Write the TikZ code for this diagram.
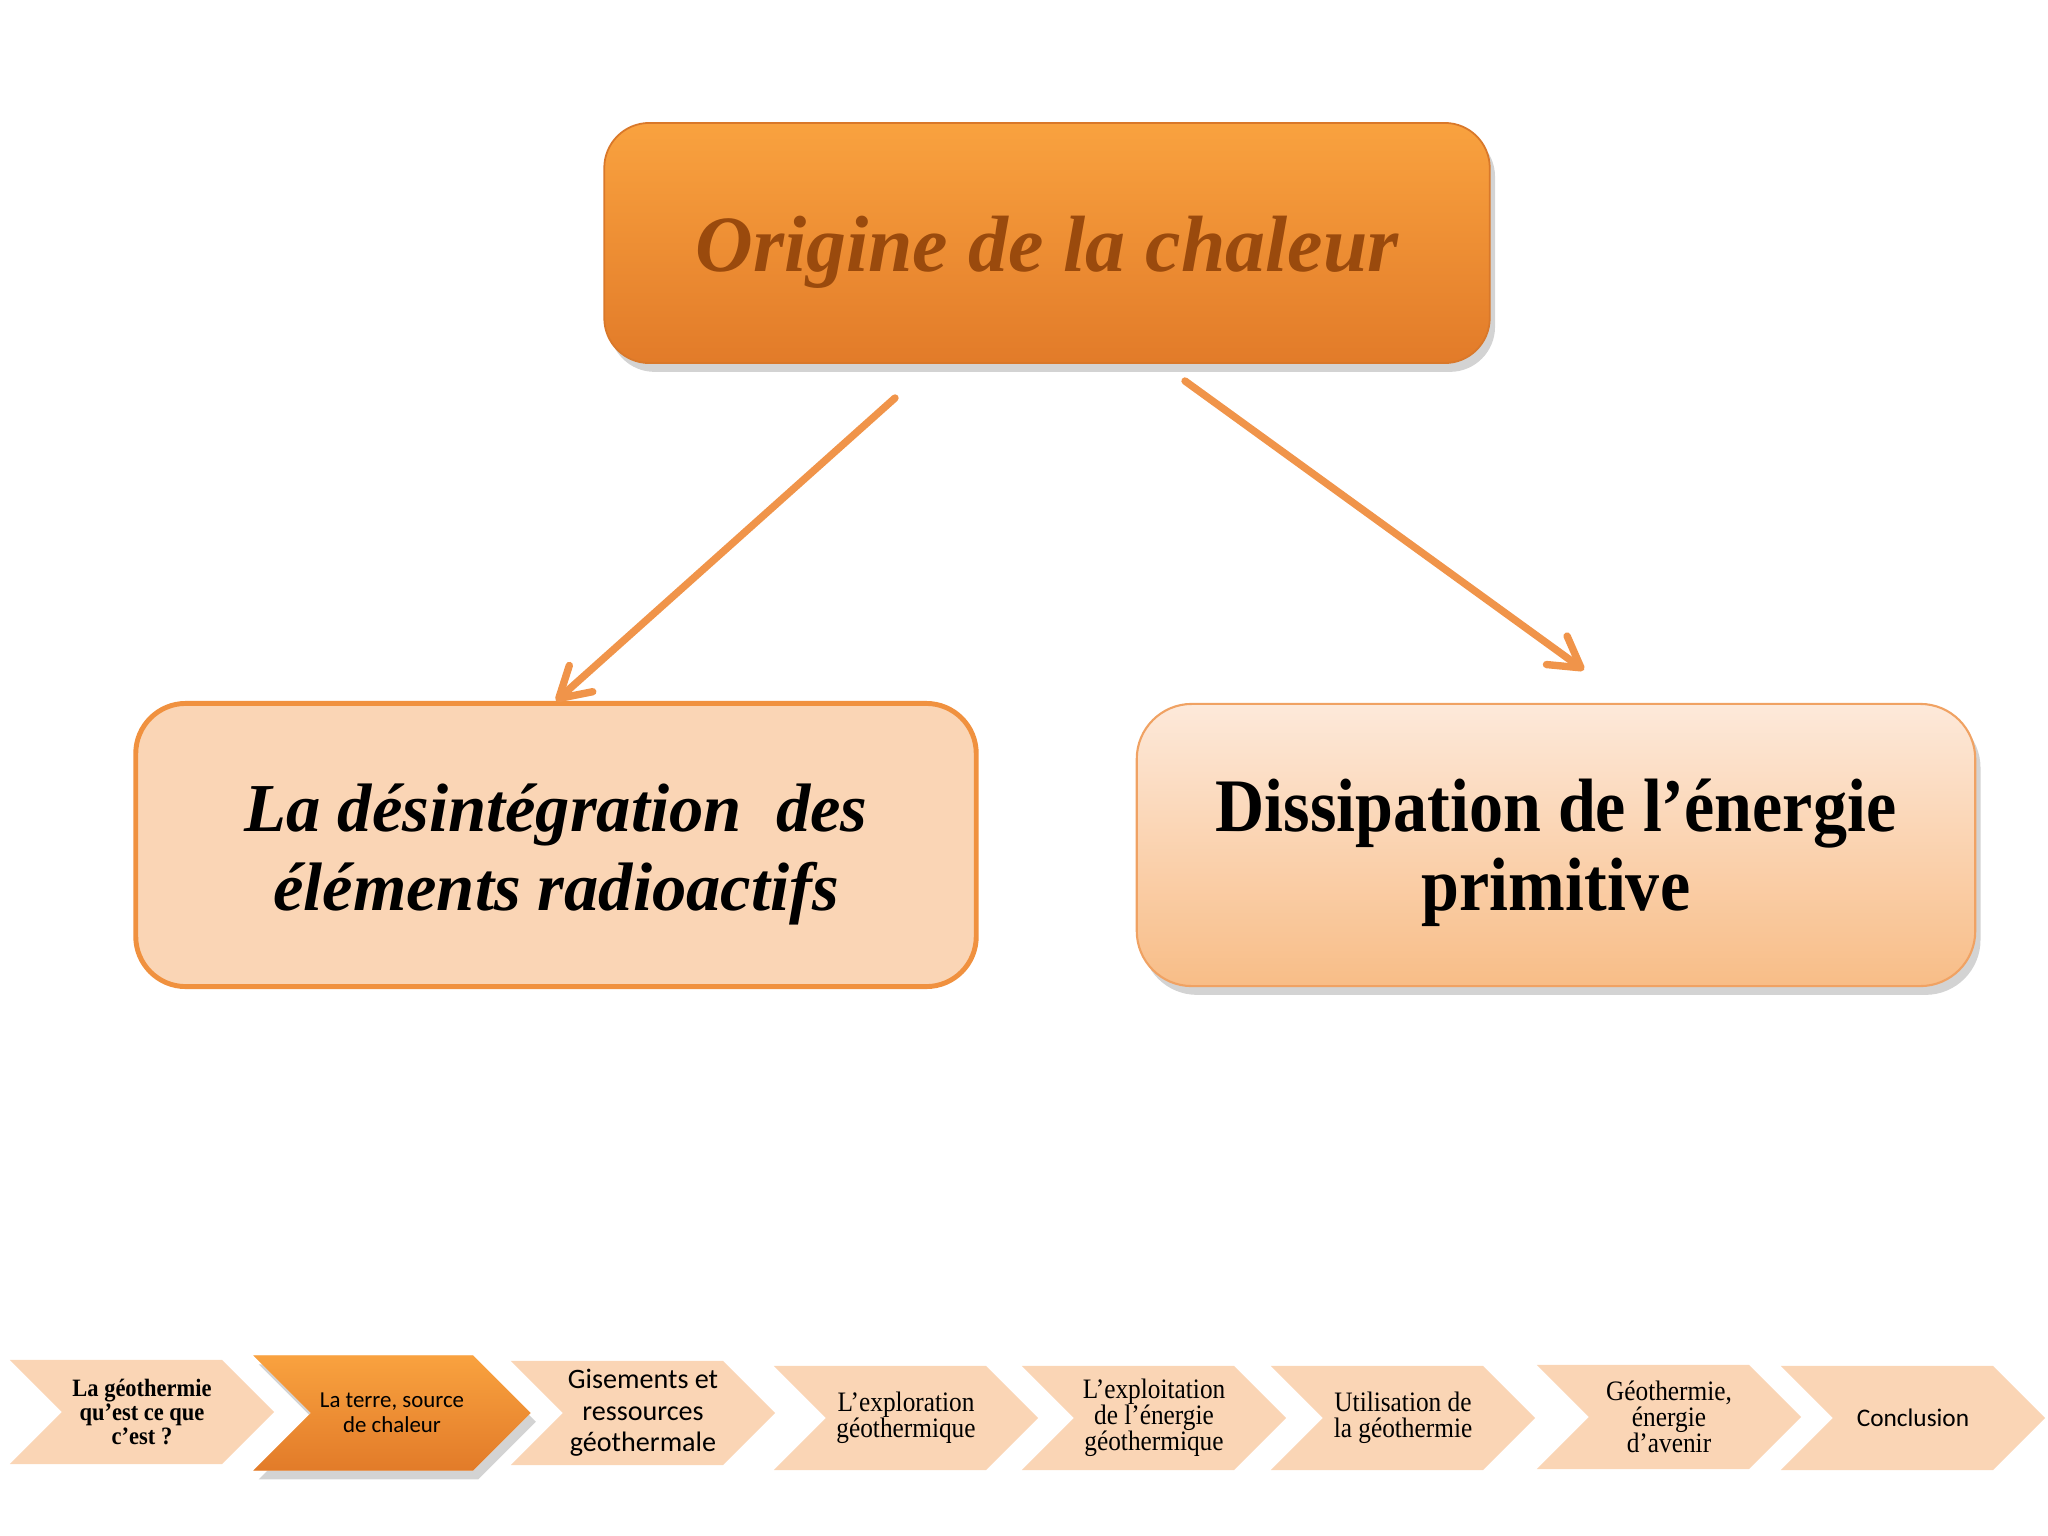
\documentclass[tikz,border=0pt]{standalone}
\usepackage{fontspec}
\setmainfont{Liberation Serif}
\newfontfamily\narrowserif{Liberation Serif}[FakeStretch=0.9]
\newfontfamily\calibri{Carlito}
\usepackage{tikz}
\usetikzlibrary{arrows.meta,positioning,shapes.symbols,shadows}

\definecolor{peach}{HTML}{FAD5B5}
\definecolor{hotTop}{HTML}{F9A23F}
\definecolor{hotBot}{HTML}{E27B29}
\definecolor{hotLine}{HTML}{D9782A}
\definecolor{brownText}{HTML}{9A4A0D}
\definecolor{rimOrange}{HTML}{F0913F}
\definecolor{paleTop}{HTML}{FDE9DA}
\definecolor{paleBot}{HTML}{F8BD87}
\definecolor{paleLine}{HTML}{F0A263}
\definecolor{arrowOrange}{HTML}{F0944A}

\tikzset{
  chevron/.style={signal, signal to=east, signal from=west, signal pointer angle=90,
    fill=peach, minimum width=2.64cm, minimum height=1.04cm, inner sep=0pt, align=center},
  flow/.style={->, draw=arrowOrange, line width=2.1pt, line cap=round},
  softshadow/.style={drop shadow={opacity=0.35, shadow xshift=1.5pt, shadow yshift=-2.5pt}}
}

\begin{document}
\begin{tikzpicture}[x=0.01cm, y=-0.01cm, >={Straight Barb[length=8.5pt,width=10pt,round]}]
    \useasboundingbox (0,0) rectangle (2048,1536);

    % heading box and the two causes
    \node [rounded corners=0.45cm, top color=hotTop, bottom color=hotBot, draw=hotLine, line width=0.5pt, softshadow,
           minimum width=8.85cm, minimum height=2.4cm, text height=17pt, text depth=0.6pt,
           font={\fontsize{22.7}{26}\selectfont\bfseries\itshape}, text=brownText] (origin) at (1047,243) {Origine de la chaleur};
    \node [rounded corners=0.5cm, fill=peach, draw=rimOrange, line width=1.4pt,
           minimum width=8.4cm, minimum height=2.83cm, align=center, text height=38pt, text depth=0.8pt,
           font={\fontsize{19.5}{22.5}\selectfont\bfseries\itshape}] (desint) at (556,845) {La désintégration\ \ des\\éléments radioactifs};
    \node [rounded corners=0.55cm, top color=paleTop, bottom color=paleBot, draw=paleLine, line width=0.6pt, softshadow,
           minimum width=8.38cm, minimum height=2.82cm, align=center, text height=38pt, text depth=0.8pt,
           font={\narrowserif\fontsize{21.5}{22.5}\selectfont\bfseries}] (dissip) at (1556,845) {Dissipation de l’énergie\\primitive};

    \coordinate (outL) at (895,398);
    \coordinate (outR) at (1185,381);
    \coordinate (inR) at (1584,670);
    \draw [flow] (outL) -- (desint.north);
    \draw [flow] (outR) -- (inR);

    % navigation bar
    \node [chevron, font={\narrowserif\fontsize{7.1}{6.7}\selectfont\bfseries}] (nav1) at (142,1412) {La géothermie\\qu’est ce que\\c’est ?};
    \node [chevron, top color=hotTop, bottom color=hotBot, softshadow, minimum width=2.77cm, minimum height=1.15cm,
           font={\calibri\fontsize{6.5}{7.2}\selectfont}] (nav2) at (392,1413) {La terre, source\\de chaleur};
    \node [chevron, font={\calibri\fontsize{8}{8.9}\selectfont}] (nav3) at (643,1413) {Gisements et\\ressources\\géothermale};
    \node [chevron, font={\narrowserif\fontsize{8}{7.4}\selectfont}] (nav4) at (906,1418) {L’exploration\\géothermique};
    \node [chevron, font={\narrowserif\fontsize{8}{7.4}\selectfont}] (nav5) at (1154,1418) {L’exploitation\\de l’énergie\\géothermique};
    \node [chevron, font={\narrowserif\fontsize{8}{7.4}\selectfont}] (nav6) at (1403,1418) {Utilisation de\\la géothermie};
    \node [chevron, font={\narrowserif\fontsize{8}{7.4}\selectfont}] (nav7) at (1669,1417) {Géothermie,\\énergie\\d’avenir};
    \node [chevron, font={\calibri\fontsize{7.2}{8}\selectfont}] (nav8) at (1913,1418) {Conclusion};
\end{tikzpicture}
\end{document}
